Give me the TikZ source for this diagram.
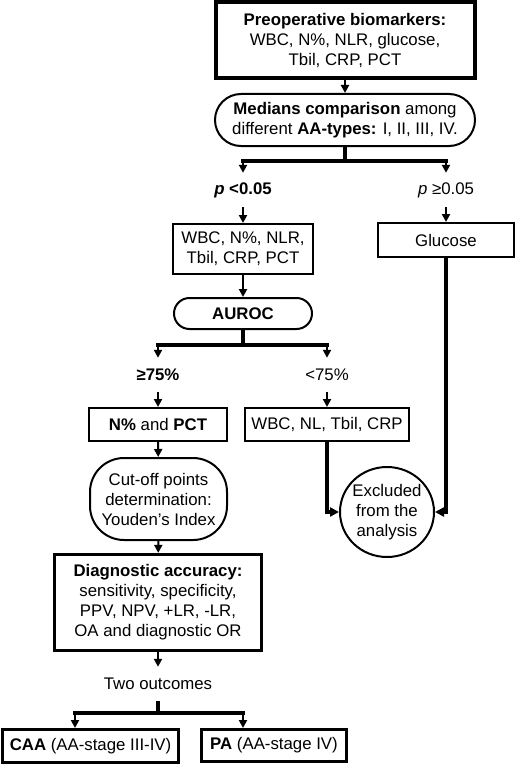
\documentclass[tikz,border=0pt]{standalone}
\usepackage{fontspec}
\setmainfont{Liberation Sans}
\usetikzlibrary{arrows.meta,shapes.geometric}
\begin{document}
\begin{tikzpicture}[x=1pt,y=-1pt,
  every node/.style={font=\fontsize{16.8}{20}\selectfont, align=center, inner sep=0pt},
  box/.style={draw, rectangle, line width=2pt},
  thickbox/.style={draw, rectangle, line width=3.2pt},
  heavybox/.style={draw, rectangle, line width=4pt},
  lab/.style={minimum height=34pt},
  arr/.style={line width=2pt, -{Triangle[length=8pt,width=8pt]}},
  conn/.style={line width=3.5pt},
  connarr/.style={line width=3.5pt, -{Triangle[length=9pt,width=9pt]}}]
\useasboundingbox (0,0) rectangle (518,765);

% nodes
\node[heavybox, minimum width=259pt, minimum height=76pt] (top) at (345,40)
  {\textbf{Preoperative biomarkers:}\\WBC, N\%, NLR, glucose,\\Tbil, CRP, PCT};
\node[box, rounded corners=26pt, minimum width=260pt, minimum height=52pt] (med) at (345,120)
  {\textbf{Medians comparison} among\\different \textbf{AA-types:} I, II, III, IV.};
\node[lab] (plow) at (243,190) {\textbf{\textit{p} <0.05}};
\node[lab] (phigh) at (446,190) {\textit{p} ≥0.05};
\node[box, minimum width=140pt, minimum height=50pt] (wbc) at (243,249)
  {WBC, N\%, NLR,\\Tbil, CRP, PCT};
\node[box, minimum width=136pt, minimum height=34pt] (gluc) at (446,240) {Glucose};
\node[box, rounded corners=15.5pt, minimum width=138pt, minimum height=31pt] (auroc) at (243,313.5)
  {\textbf{AUROC}};
\node[lab] (ge) at (158,375) {\textbf{≥75\%}};
\node[lab] (lt) at (327,375) {<75\%};
\node[box, minimum width=138pt, minimum height=33pt] (npct) at (158,424.5)
  {\textbf{N\%} and \textbf{PCT}};
\node[box, minimum width=164pt, minimum height=33pt] (wbcnl) at (327,424.5)
  {WBC, NL, Tbil, CRP};
\node[box, rounded corners=34pt, minimum width=137pt, minimum height=82pt] (cut) at (158.5,499)
  {Cut-off points\\determination:\\Youden’s Index};
\node[draw, ellipse, line width=2pt, inner sep=-8pt, minimum width=94pt, minimum height=90pt] (excl) at (387,512)
  {Excluded\\from the\\analysis};
\node[thickbox, minimum width=207pt, minimum height=96pt] (diag) at (158,602.5)
  {\textbf{Diagnostic accuracy:}\\sensitivity, specificity,\\PPV, NPV, +LR, -LR,\\OA and diagnostic OR};
\node[lab] (two) at (158,684) {Two outcomes};
\node[thickbox, minimum width=175.8pt, minimum height=32.8pt] (caa) at (90.5,746)
  {\textbf{CAA} (AA-stage III-IV)};
\node[thickbox, minimum width=144.8pt, minimum height=31.8pt] (pa) at (274,745.5)
  {\textbf{PA} (AA-stage IV)};

% coordinates
\coordinate (b1) at (345,161);
\coordinate (bl) at (243,161);
\coordinate (br) at (446,161);
\coordinate (a1) at (243,345);
\coordinate (al) at (158,345);
\coordinate (ar) at (327,345);
\coordinate (o1) at (158,713);
\coordinate (ol) at (75,713);
\coordinate (or) at (243,713);

% connectors
\draw[arr] (top) -- (med);
\draw[conn] (med.south) -- (b1);
\draw[conn, line cap=rect] (bl) -- (br);
\draw[arr] (bl) -- (plow);
\draw[arr] (br) -- (phigh);
\draw[arr] (plow) -- (wbc);
\draw[arr] (phigh) -- (gluc);
\draw[arr] (wbc) -- (auroc);
\draw[conn] (auroc.south) -- (a1);
\draw[conn, line cap=rect] (al) -- (ar);
\draw[arr] (al) -- (ge);
\draw[arr] (ar) -- (lt);
\draw[arr] (ge) -- (npct);
\draw[arr] (lt) -- (wbcnl);
\draw[arr] (npct) -- (cut);
\draw[arr] (cut) -- (diag);
\draw[connarr] (wbcnl.south) |- (excl.west);
\draw[connarr] (gluc.south) |- (excl.east);
\draw[arr] (diag) -- (two);
\draw[conn] (two) -- (o1);
\draw[conn, line cap=rect] (ol) -- (or);
\draw[arr] (ol) -- (ol |- caa.north);
\draw[arr] (or) -- (or |- pa.north);
\end{tikzpicture}
\end{document}
